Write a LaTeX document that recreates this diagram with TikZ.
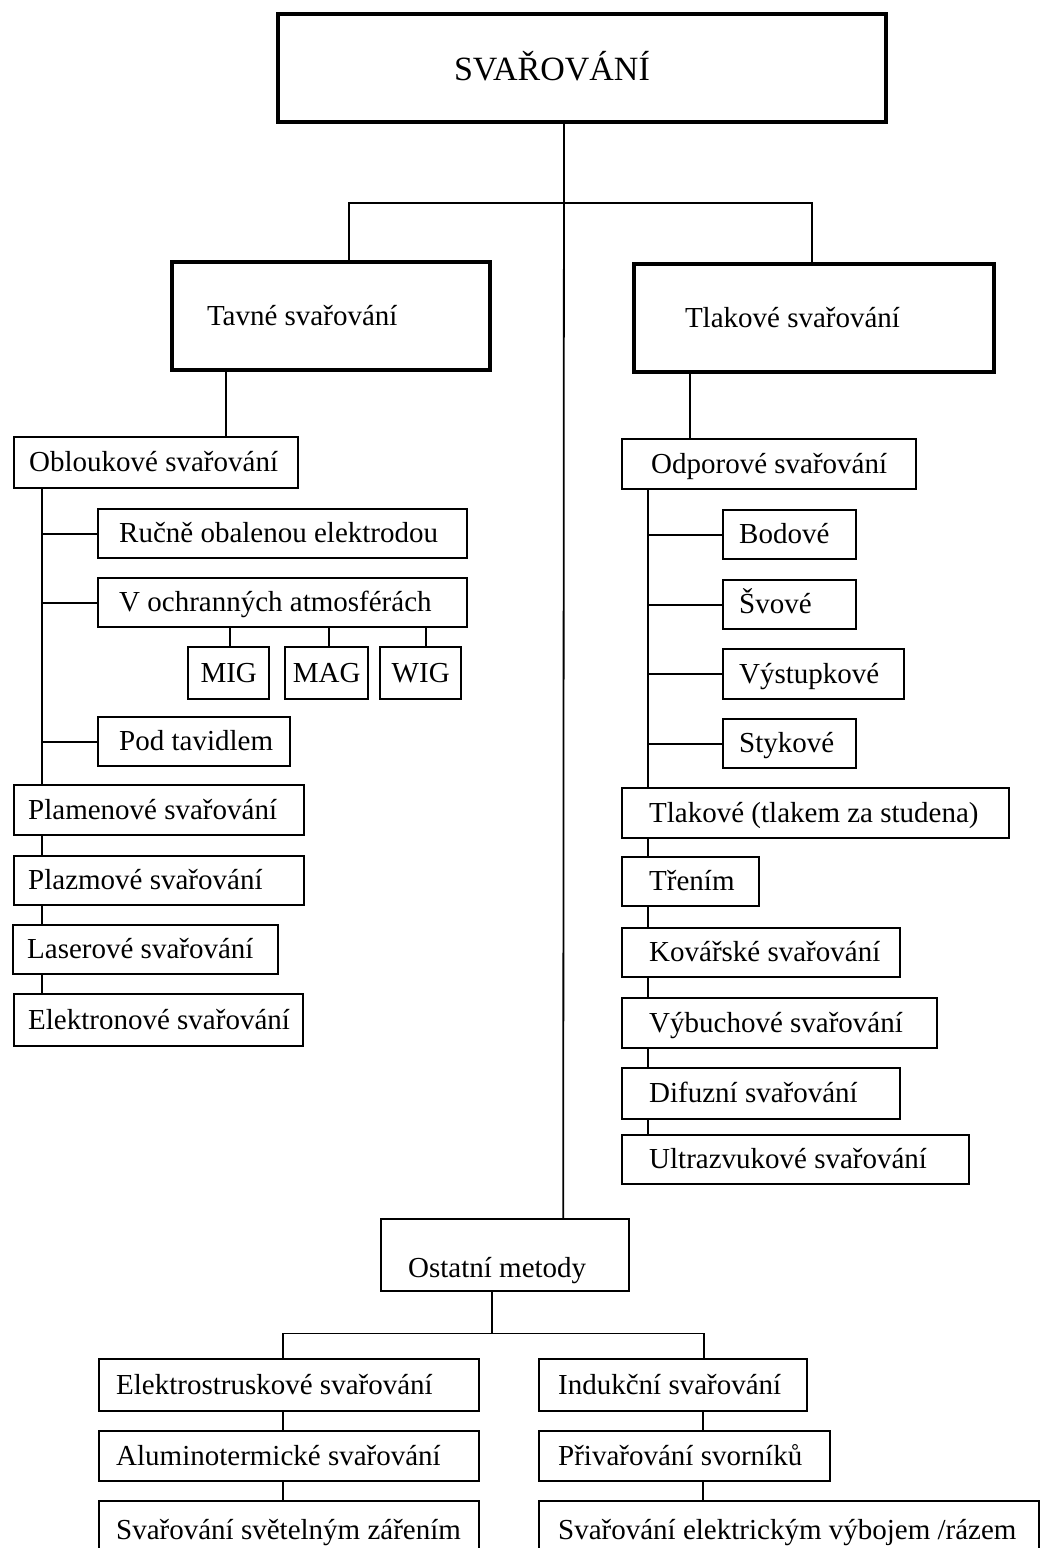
\documentclass[tikz,border=0pt]{standalone}
\usepackage{fontspec}
\setmainfont{Liberation Serif}
\tikzset{
  bx/.style={draw, line width=2.4pt, font=\fontsize{29}{32}\selectfont, text height=22pt, text depth=4pt, inner ysep=0pt},
  mainbx/.style={bx, line width=4pt},
  conn/.style={line width=1.8pt},
}
% name, x1, y1, x2, y2, xpad, style, alignment (l/c), text
\newcommand\bxnode[9]{%
  \pgfmathsetmacro\bxw{#4-#2-2*#6}%
  \pgfmathsetmacro\bxh{#5-#3}%
  \node[#7, anchor=north west, inner xsep=#6pt, minimum height=\bxh pt] (#1) at (#2pt,-#3pt) {\makebox[\bxw pt][#8]{#9}};%
}
\begin{document}
\begin{tikzpicture}
\useasboundingbox (0,0) rectangle (1040pt,-1548pt);
\clip (0,0) rectangle (1040pt,-1548pt);
\fill[white] (0,0) rectangle (1040pt,-1548pt);

% top level
\bxnode{root}{276}{12}{884}{120}{176}{mainbx, font=\fontsize{34}{38}\selectfont, text height=24pt, text depth=0pt}{l}{SVAŘOVÁNÍ}
\bxnode{tav}{170}{260}{488}{368}{35}{mainbx}{l}{Tavné svařování}
\bxnode{tlak}{632}{262}{992}{370}{51}{mainbx}{l}{Tlakové svařování}

% left column
\bxnode{obl}{13}{436}{297}{487}{15}{bx}{l}{Obloukové svařování}
\bxnode{ruc}{97}{508}{466}{557}{21}{bx}{l}{Ručně obalenou elektrodou}
\bxnode{och}{97}{577}{466}{626}{21}{bx}{l}{V ochranných atmosférách}
\bxnode{mig}{187}{646}{268}{698}{2}{bx}{c}{MIG}
\bxnode{mag}{284}{646}{367}{698}{2}{bx}{c}{MAG}
\bxnode{wig}{379}{646}{460}{698}{2}{bx}{c}{WIG}
\bxnode{pod}{97}{716}{289}{765}{21}{bx}{l}{Pod tavidlem}
\bxnode{pla}{13}{784}{303}{834}{14}{bx}{l}{Plamenové svařování}
\bxnode{plaz}{13}{855}{303}{904}{14}{bx}{l}{Plazmové svařování}
\bxnode{las}{12}{924}{277}{973}{14}{bx}{l}{Laserové svařování}
\bxnode{ele}{13}{993}{302}{1045}{14}{bx}{l}{Elektronové svařování}

% right column
\bxnode{odp}{621}{438}{915}{488}{29}{bx}{l}{Odporové svařování}
\bxnode{bod}{722}{509}{855}{558}{16}{bx}{l}{Bodové}
\bxnode{svo}{722}{579}{855}{628}{16}{bx}{l}{Švové}
\bxnode{vys}{722}{648}{903}{698}{16}{bx}{l}{Výstupkové}
\bxnode{sty}{722}{718}{855}{767}{16}{bx}{l}{Stykové}
\bxnode{tls}{621}{787}{1008}{837}{27}{bx}{l}{Tlakové (tlakem za studena)}
\bxnode{tre}{621}{856}{758}{905}{27}{bx}{l}{Třením}
\bxnode{kov}{621}{927}{899}{976}{27}{bx}{l}{Kovářské svařování}
\bxnode{vyb}{621}{997}{936}{1047}{27}{bx}{l}{Výbuchové svařování}
\bxnode{dif}{621}{1067}{899}{1118}{27}{bx}{l}{Difuzní svařování}
\bxnode{ult}{621}{1134}{968}{1183}{27}{bx}{l}{Ultrazvukové svařování}

% other methods
\bxnode{ost}{380}{1218}{628}{1290}{27}{bx, text height=46pt, text depth=2pt}{l}{Ostatní metody}
\bxnode{es}{98}{1358}{478}{1410}{17}{bx}{l}{Elektrostruskové svařování}
\bxnode{ind}{538}{1358}{806}{1410}{19}{bx}{l}{Indukční svařování}
\bxnode{al}{98}{1430}{478}{1480}{17}{bx}{l}{Aluminotermické svařování}
\bxnode{pri}{538}{1430}{829}{1480}{19}{bx}{l}{Přivařování svorníků}
\bxnode{sv}{98}{1500}{478}{1558}{17}{bx}{l}{Svařování světelným zářením}
\bxnode{ek}{538}{1500}{1038}{1558}{19}{bx}{l}{Svařování elektrickým výbojem /rázem}

% connectors: top
\draw[conn] ([xshift=-18pt]root.south) -- ([xshift=58pt]ost.north);
\draw[conn] ([xshift=18pt]tav.north) -- ++(0,57pt) -| ([xshift=-2pt]tlak.north);

% left
\coordinate (tavd) at ([xshift=-105pt]tav.south);
\draw[conn] (tavd) -- (tavd |- obl.north);
\coordinate (lt) at ([xshift=29pt]obl.south west);
\draw[conn] (lt) -- (lt |- pla.north);
\foreach \n in {ruc,och,pod} \draw[conn] (lt |- \n.west) -- (\n.west);
\draw[conn] (lt |- pla.south) -- (lt |- plaz.north);
\draw[conn] (lt |- plaz.south) -- (lt |- las.north);
\draw[conn] (lt |- las.south) -- (lt |- ele.north);
\coordinate (migc) at ([xshift=1pt]mig.north);
\coordinate (magc) at ([xshift=2pt]mag.north);
\coordinate (wigc) at ([xshift=5pt]wig.north);
\foreach \n in {migc,magc,wigc} \draw[conn] (\n |- och.south) -- (\n);

% right
\coordinate (tlakd) at ([xshift=-124pt]tlak.south);
\draw[conn] (tlakd) -- (tlakd |- odp.north);
\coordinate (rt) at ([xshift=27pt]odp.south west);
\draw[conn] (rt) -- (rt |- tls.north);
\foreach \n in {bod,svo,vys,sty} \draw[conn] (rt |- \n.west) -- (\n.west);
\draw[conn] (rt |- tls.south) -- (rt |- tre.north);
\draw[conn] (rt |- tre.south) -- (rt |- kov.north);
\draw[conn] (rt |- kov.south) -- (rt |- vyb.north);
\draw[conn] (rt |- vyb.south) -- (rt |- dif.north);
\draw[conn] (rt |- dif.south) -- (rt |- ult.north);

% bottom
\coordinate (od) at ([xshift=-13pt]ost.south);
\coordinate (esx) at ([xshift=-6pt]es.north);
\coordinate (indx) at ([xshift=31pt]ind.north);
\draw[conn] (od) -- ++(0,-41pt) -| (esx);
\draw[conn] (od) ++(0,-41pt) -| (indx);
\coordinate (esb) at ([xshift=-6pt]es.south);
\draw[conn] (esb) -- (esb |- al.north);
\coordinate (alb) at ([xshift=-6pt]al.south);
\draw[conn] (alb) -- (alb |- sv.north);
\coordinate (indb) at ([xshift=30pt]ind.south);
\draw[conn] (indb) -- (indb |- pri.north);
\coordinate (prib) at ([xshift=18.5pt]pri.south);
\draw[conn] (prib) -- (prib |- ek.north);
\end{tikzpicture}
\end{document}
